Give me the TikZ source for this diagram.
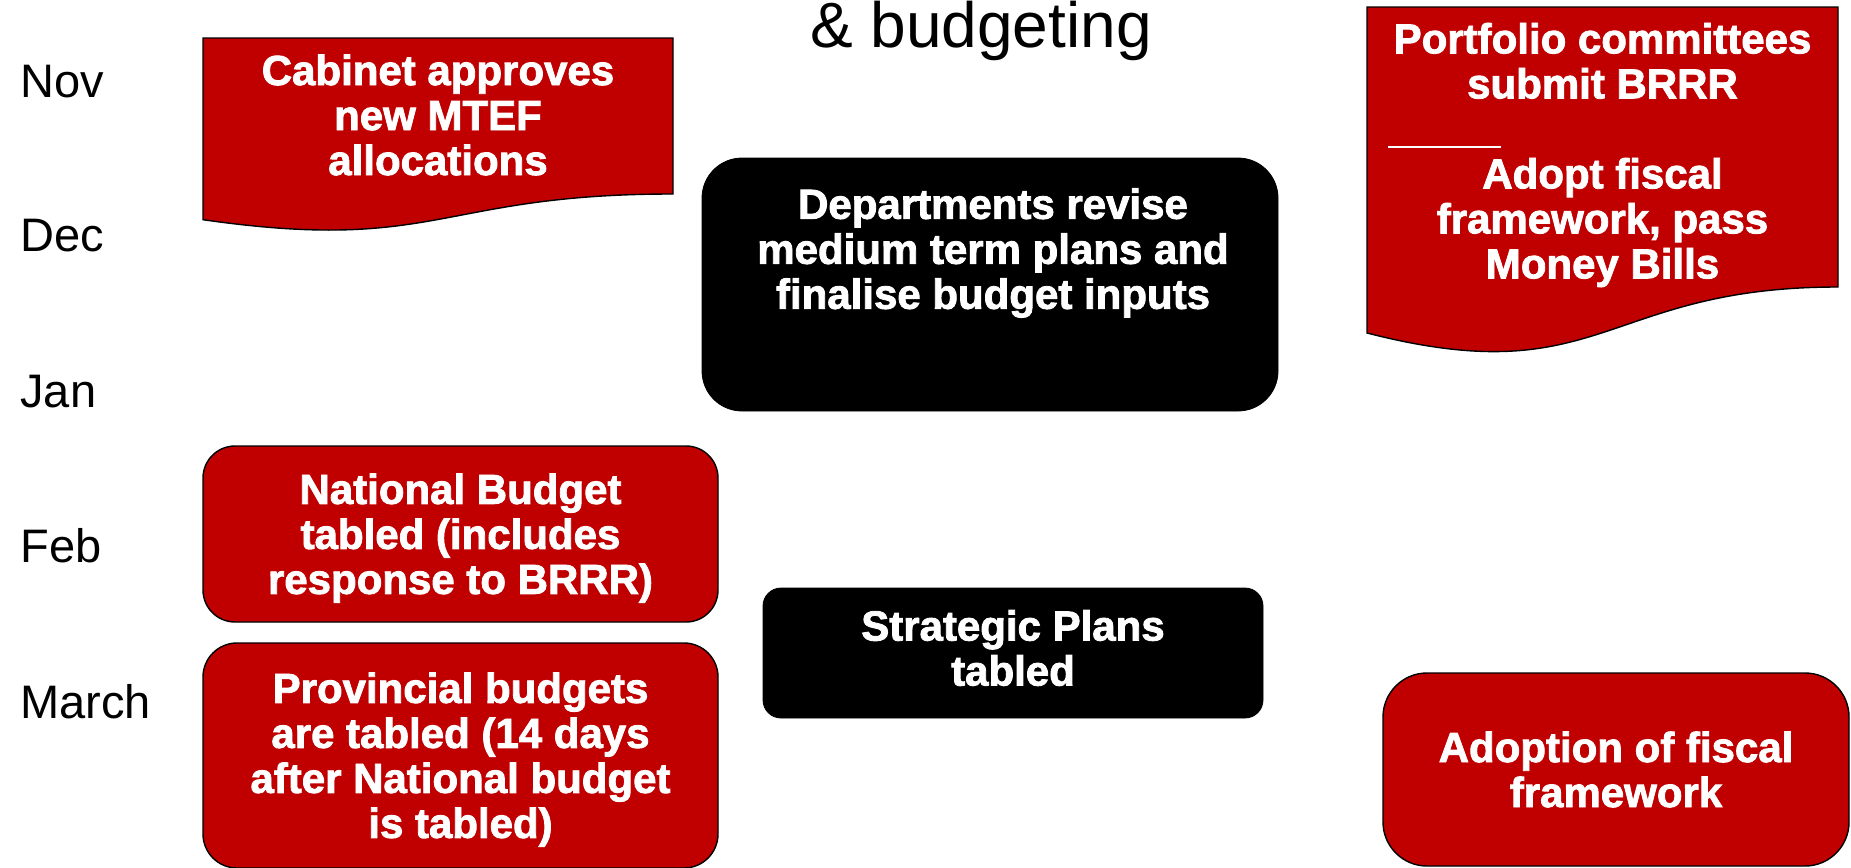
\documentclass[tikz,border=0pt]{standalone}
\usepackage{fontspec}
\setmainfont{Liberation Sans}
\newfontfamily\boxfont{Liberation Sans Bold}[FakeBold=2]
\definecolor{budgetred}{RGB}{192,0,0}
\begin{document}
\begin{tikzpicture}[x=0.5pt,y=-0.5pt,
  month/.style={anchor=base west, inner sep=0pt, font=\fontsize{23.5pt}{26pt}\selectfont},
  boxtext/.style={text=white, align=center, inner sep=0pt,
    font=\boxfont\fontsize{21pt}{22.5pt}\selectfont},
  redbox/.style={draw=black, line width=0.7pt, fill=budgetred},
  blackbox/.style={draw=black, fill=black},
  docshape/.style={draw=black, line width=0.7pt, fill=budgetred}
]
\useasboundingbox (0,0) rectangle (1851,867);

% heading fragment
\node[anchor=base, inner sep=0pt, font=\fontsize{32pt}{35pt}\selectfont] (title) at (981,47) {\& budgeting};

% month column
\node[month] (nov) at (20,97) {Nov};
\node[month] (dec) at (20,251) {Dec};
\node[month] (jan) at (20,407) {Jan};
\node[month] (feb) at (20,562) {Feb};
\node[month] (mar) at (20,718) {March};

% document-shaped notes (wavy lower edge)
\path[docshape] (203,38) -- (673,38) -- (673,194)
  .. controls (438,194) and (438,253.4) .. (203,219.7) -- cycle;
\node[boxtext] (cabinet) at (438,115) {Cabinet approves\\new MTEF\\allocations};

\path[docshape] (1367,7) -- (1838,7) -- (1838,287)
  .. controls (1602.5,287) and (1602.5,393.5) .. (1367,333) -- cycle;
\node[boxtext] (portfolio) at (1602.5,155) {Portfolio committees\\submit BRRR\\%
  \makebox[0pt][r]{\rule[-2.5pt]{56.5pt}{1pt}\hspace*{50.75pt}}\\Adopt fiscal\\framework, pass\\Money Bills};

% rounded process boxes
\node[blackbox, rounded corners=20pt, minimum width=288pt, minimum height=126.5pt] (depts) at (990,284.5) {};
\node[boxtext] (deptstext) at (993,253) {Departments revise\\medium term plans and\\finalise budget inputs};

\node[redbox, rounded corners=16pt, minimum width=257.5pt, minimum height=88pt] (national) at (460.5,534) {};
\node[boxtext] (nationaltext) at (460.5,538) {National Budget\\tabled (includes\\response to BRRR)};

\node[redbox, rounded corners=17pt, minimum width=257.5pt, minimum height=112.5pt] (provincial) at (460.5,755.5) {};
\node[boxtext] (provincialtext) at (460.5,759.5) {Provincial budgets\\are tabled (14 days\\after National budget\\is tabled)};

\node[blackbox, rounded corners=9pt, minimum width=250pt, minimum height=65pt] (strategic) at (1013,653) {};
\node[boxtext] (strategictext) at (1013,648) {Strategic Plans\\tabled};

\node[redbox, rounded corners=22pt, minimum width=233pt, minimum height=96.5pt] (adoption) at (1616,769.5) {};
\node[boxtext] (adoptiontext) at (1616,769.5) {Adoption of fiscal\\framework};
\end{tikzpicture}
\end{document}
